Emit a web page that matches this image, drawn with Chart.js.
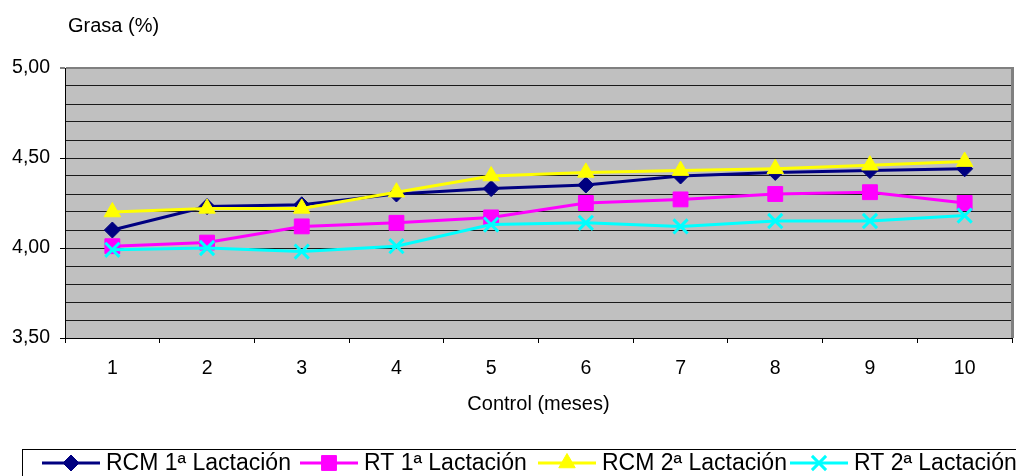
<!DOCTYPE html>
<html lang="es">
<head>
<meta charset="utf-8">
<title>Grasa (%) por control</title>
<script src="https://cdn.jsdelivr.net/npm/chart.js@4/dist/chart.umd.min.js"></script>
<style>
  html, body { margin: 0; padding: 0; background: #ffffff; }
  #wrap { width: 1016px; height: 476px; }
</style>
</head>
<body>
<div id="wrap"><canvas id="c" width="1016" height="476"></canvas></div>
<script>
// Meses de control
const meses = ['1', '2', '3', '4', '5', '6', '7', '8', '9', '10'];

// Porcentaje de grasa por grupo
const rcm1 = [4.10, 4.23, 4.24, 4.30, 4.33, 4.35, 4.40, 4.42, 4.43, 4.44];
const rt1  = [4.01, 4.03, 4.12, 4.14, 4.17, 4.25, 4.27, 4.30, 4.31, 4.25];
const rcm2 = [4.20, 4.22, 4.22, 4.31, 4.40, 4.42, 4.43, 4.44, 4.46, 4.48];
const rt2  = [3.99, 4.00, 3.98, 4.01, 4.13, 4.14, 4.12, 4.15, 4.15, 4.18];

const nombres = ['RCM 1ª Lactación', 'RT 1ª Lactación', 'RCM 2ª Lactación', 'RT 2ª Lactación'];

// Eje Y: 3,50 a 5,00 con líneas cada 0,10 y rótulos cada 0,50
const yMin = 3.5, yMax = 5.0, yPaso = 0.1, yRotulo = 0.5;

const FONT = '"Liberation Sans", Arial, sans-serif';
const FTICK = 19.5;
const FTITULO = 20;
const FLEYENDA = 23;

function esMayor(v) {
  const k = Math.round(v * 100) / (yRotulo * 100);
  return Math.abs(k - Math.round(k)) < 1e-6;
}

function serie(label, data, color, style, radius, order) {
  return {
    label, data, order,
    borderColor: color,
    backgroundColor: color,
    borderWidth: 3,
    pointStyle: style,
    pointRadius: radius,
    pointHoverRadius: radius,
    pointBorderWidth: style === 'crossRot' ? 3 : 1,
    pointBorderColor: color,
    pointBackgroundColor: color,
    tension: 0,
    fill: false,
    clip: false
  };
}

// Fondo gris del área de trazado y borde derecho
const fondo = {
  id: 'fondo',
  beforeDraw(chart) {
    const { ctx, chartArea: a } = chart;
    ctx.save();
    ctx.fillStyle = '#c0c0c0';
    ctx.fillRect(a.left, a.top, a.right - a.left, a.bottom - a.top);
    ctx.restore();
  },
  beforeDatasetsDraw(chart) {
    const { ctx, chartArea: a } = chart;
    ctx.save();
    ctx.strokeStyle = '#808080';
    ctx.lineWidth = 3;
    ctx.beginPath();
    ctx.moveTo(a.right + 0.5, a.top - 1);
    ctx.lineTo(a.right + 0.5, a.bottom);
    ctx.stroke();
    ctx.restore();
  }
};

// Títulos de ejes y leyenda con línea y marcador
const rotulos = {
  id: 'rotulos',
  afterDraw(chart) {
    const { ctx, chartArea: a } = chart;
    ctx.save();
    ctx.fillStyle = '#000';
    ctx.font = FTITULO + 'px ' + FONT;
    ctx.textBaseline = 'middle';
    ctx.textAlign = 'left';
    ctx.fillText('Grasa (%)', 68, 26);
    ctx.textAlign = 'center';
    ctx.fillText('Control (meses)', (a.left + a.right) / 2, 404);

    // leyenda
    const top = 449.5, cy = 463;
    const inicio = [42, 300, 538, 790];
    ctx.strokeStyle = '#000';
    ctx.lineWidth = 1;
    ctx.strokeRect(22.5, top, 1010, 40);
    ctx.font = FLEYENDA + 'px ' + FONT;
    chart.data.datasets.forEach((ds, i) => {
      const x = inicio[i];
      ctx.strokeStyle = ds.borderColor;
      ctx.lineWidth = 3;
      ctx.beginPath();
      ctx.moveTo(x, cy);
      ctx.lineTo(x + 58, cy);
      ctx.stroke();
      ctx.fillStyle = ds.pointBackgroundColor;
      ctx.strokeStyle = ds.pointBorderColor;
      ctx.lineWidth = ds.pointBorderWidth;
      Chart.helpers.drawPoint(ctx, {
        pointStyle: ds.pointStyle,
        radius: ds.pointRadius,
        borderWidth: ds.pointBorderWidth
      }, x + 29, cy);
      ctx.fillStyle = '#000';
      ctx.textAlign = 'left';
      ctx.fillText(ds.label, x + 64, cy + 1);
    });
    ctx.restore();
  }
};

new Chart(document.getElementById('c'), {
  type: 'line',
  data: {
    labels: meses,
    datasets: [
      serie(nombres[0], rcm1, '#000080', 'rectRot', 8, 4),
      serie(nombres[1], rt1, '#ff00ff', 'rect', 10.5, 3),
      serie(nombres[2], rcm2, '#ffff00', 'triangle', 9.5, 2),
      serie(nombres[3], rt2, '#00ffff', 'crossRot', 10, 1)
    ]
  },
  options: {
    responsive: false,
    animation: false,
    devicePixelRatio: 1,
    layout: { autoPadding: false, padding: { top: 68, right: 4, bottom: 0, left: 0 } },
    plugins: {
      legend: { display: false },
      tooltip: { enabled: false },
      title: { display: false }
    },
    scales: {
      x: {
        type: 'category',
        offset: true,
        afterFit(s) { s.height = 138; s.paddingLeft = 0; s.paddingRight = 0; },
        grid: {
          offset: true,
          drawOnChartArea: false,
          drawTicks: true,
          tickLength: 5,
          tickColor: '#000',
          tickWidth: 1
        },
        border: { color: '#000', width: 1 },
        ticks: {
          color: '#000',
          font: { family: FONT, size: FTICK },
          padding: 14,
          maxRotation: 0,
          autoSkip: false
        }
      },
      y: {
        min: yMin,
        max: yMax,
        afterFit(s) { s.width = 65; },
        grid: {
          color: (c) => (c.tick && Math.abs(c.tick.value - yMax) < 1e-6 ? '#808080' : '#1a1a1a'),
          lineWidth: (c) => (c.tick && Math.abs(c.tick.value - yMax) < 1e-6 ? 2 : 1),
          drawTicks: true,
          tickLength: 5,
          tickColor: (c) => (c.tick && esMayor(c.tick.value) ? '#000' : 'rgba(0,0,0,0)'),
          tickWidth: 1
        },
        border: { color: '#000', width: 1 },
        ticks: {
          stepSize: yPaso,
          autoSkip: false,
          padding: 10,
          color: '#000',
          font: { family: FONT, size: FTICK },
          callback: (v) => (esMayor(v) ? v.toFixed(2).replace('.', ',') : '')
        }
      }
    }
  },
  plugins: [fondo, rotulos]
});
</script>
</body>
</html>
